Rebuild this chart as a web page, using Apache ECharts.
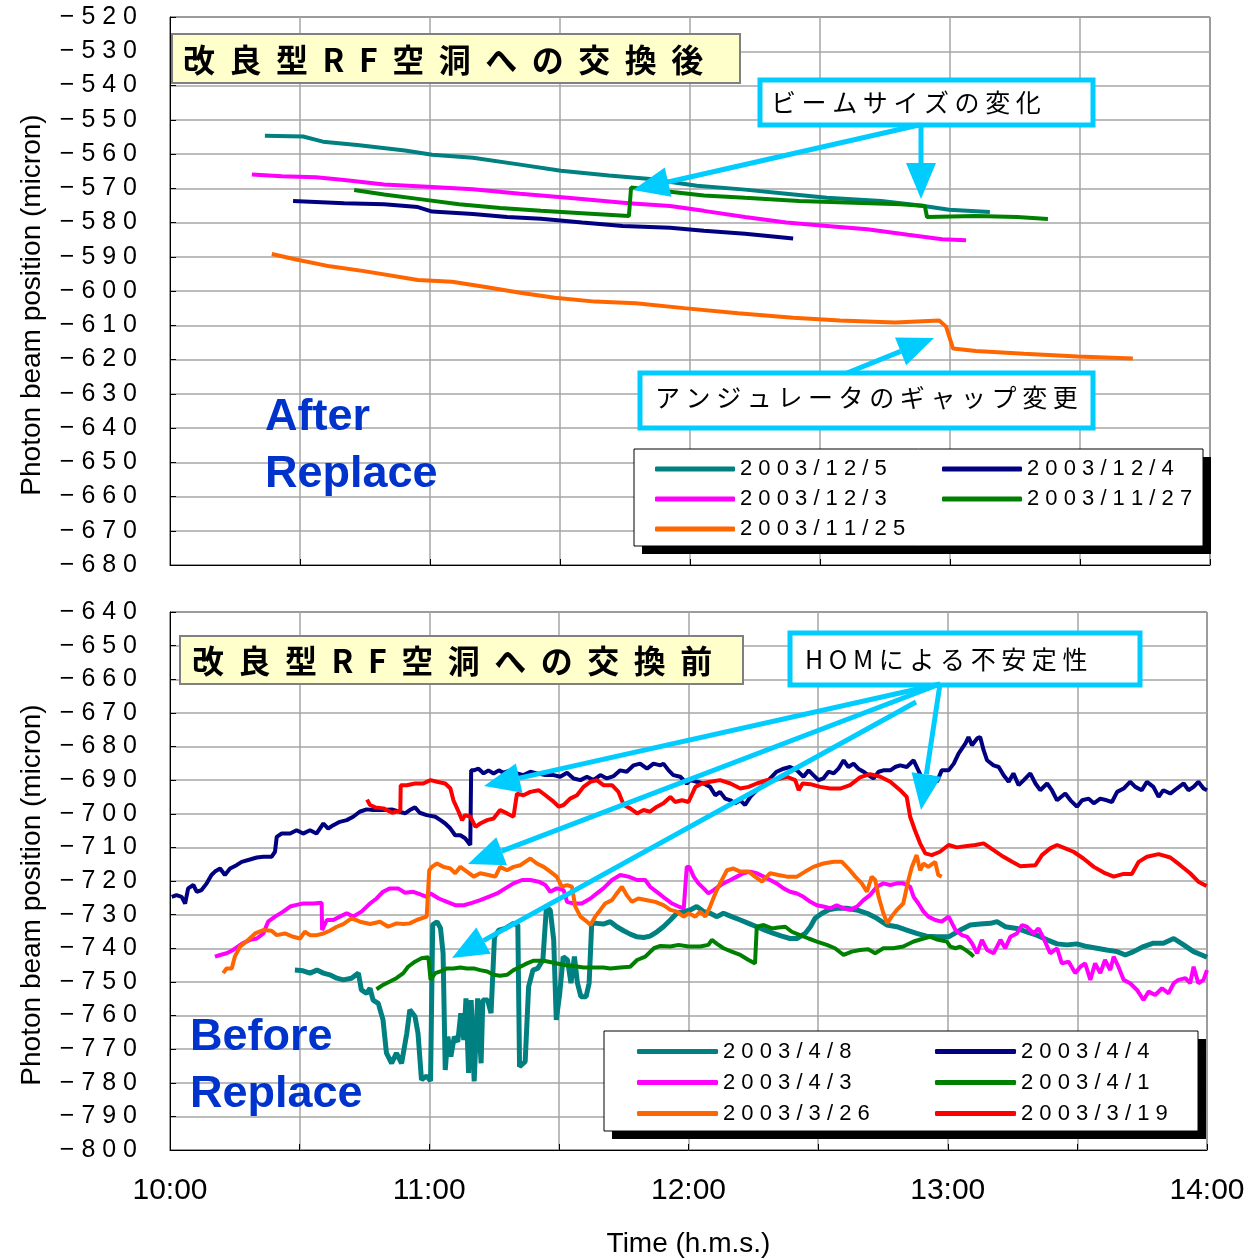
<!DOCTYPE html>
<html>
<head>
<meta charset="utf-8">
<script src="https://cdn.jsdelivr.net/npm/echarts@6/dist/echarts.min.js"></script>
<style>
    html, body { margin: 0; padding: 0; background: #fff; }
    #chart { width: 1252px; height: 1260px; }
</style>
</head>
<body>
<div id="chart"></div>
<script>
// 時刻は 10:00 からの経過分, 値は micron
// 改良型RF空洞への交換後
var after_1205 = [[21.9,-554.7],[30.7,-554.9],[35.3,-556.4],[43.2,-557.4],[54.2,-559.0],[60.5,-560.2],[69.9,-561.1],[80.8,-563.1],[90.2,-564.9],[101.3,-566.3],[110.8,-567.3],[121.6,-569.3],[132.7,-570.4],[142.2,-571.6],[151.6,-572.8],[164.1,-573.7],[173.6,-575.1],[179.8,-576.3],[189.2,-576.9]];
var after_1204 = [[28.4,-573.7],[40.2,-574.4],[49.4,-574.7],[57.2,-575.5],[60.5,-576.8],[69.9,-577.5],[77.8,-578.4],[85.6,-578.9],[95.1,-580.0],[104.5,-581.0],[115.4,-581.5],[123.2,-582.4],[132.7,-583.3],[143.8,-584.7]];
var after_1203 = [[18.9,-566.0],[25.8,-566.5],[33.7,-566.8],[40.2,-567.6],[49.4,-568.9],[60.5,-569.6],[69.9,-570.3],[80.8,-571.6],[91.8,-572.8],[105.9,-574.4],[115.4,-575.2],[123.2,-576.6],[132.7,-578.4],[142.2,-580.0],[151.6,-581.0],[160.9,-582.0],[170.3,-583.6],[178.2,-584.9],[183.7,-585.2]];
var after_1127 = [[42.5,-570.5],[49.4,-571.8],[57.2,-573.1],[66.7,-574.7],[76.2,-575.8],[85.6,-576.6],[95.1,-577.3],[105.9,-578.1],[106.4,-569.8],[115.4,-571.0],[123.2,-572.1],[132.7,-572.8],[145.2,-573.7],[157.9,-574.2],[168.7,-574.7],[174.2,-575.2],[174.7,-578.4],[186.0,-578.1],[195.5,-578.4],[202.6,-579.0]];
var after_1125 = [[23.5,-589.2],[29.1,-590.8],[36.9,-592.8],[44.8,-594.2],[57.2,-596.8],[65.1,-597.3],[73.2,-598.9],[80.8,-600.5],[88.8,-602.0],[98.1,-603.1],[107.5,-603.6],[118.6,-605.0],[131.1,-606.5],[143.8,-607.8],[154.6,-608.6],[167.3,-609.2],[177.5,-608.6],[179.1,-610.4],[180.7,-616.8],[186.0,-617.5],[197.1,-618.3],[209.5,-619.1],[222.2,-619.7]];

// 改良型RF空洞への交換前
var before_0408 = [[28.9,-746.5],[30.8,-746.7],[32.4,-747.4],[34.0,-746.5],[35.5,-747.4],[37.0,-747.9],[38.6,-748.9],[40.1,-749.4],[42.0,-748.9],[43.6,-747.4],[44.3,-752.4],[45.5,-753.4],[46.3,-751.9],[47.0,-755.4],[48.2,-756.4],[49.3,-761.3],[50.1,-771.2],[51.3,-774.2],[52.4,-771.2],[53.6,-774.2],[54.8,-765.3],[55.5,-758.3],[56.7,-760.3],[57.4,-765.3],[58.2,-779.1],[59.4,-778.0],[60.3,-779.5],[60.8,-733.0],[61.8,-732.1],[62.6,-734.0],[63.2,-741.5],[63.7,-776.2],[64.3,-766.3],[65.0,-772.2],[65.8,-766.3],[66.6,-767.8],[67.3,-759.3],[68.0,-767.3],[68.5,-754.9],[69.1,-777.1],[69.7,-755.4],[70.4,-779.6],[71.2,-754.9],[72.0,-774.2],[72.4,-755.4],[73.5,-755.4],[74.3,-759.3],[75.1,-736.6],[76.1,-734.6],[77.6,-734.1],[79.5,-732.6],[80.5,-733.1],[80.9,-775.2],[82.2,-773.7],[83.0,-751.4],[84.0,-746.5],[85.1,-746.0],[86.3,-743.5],[87.1,-728.1],[88.0,-728.6],[88.8,-737.5],[89.4,-761.3],[90.2,-753.4],[91.0,-742.5],[92.0,-743.5],[92.8,-750.4],[93.6,-742.5],[94.3,-750.4],[95.1,-754.4],[96.3,-754.4],[97.0,-750.4],[97.6,-732.6],[98.8,-732.6],[100.3,-732.8],[101.9,-732.1],[103.4,-733.6],[105.0,-734.8],[106.5,-735.8],[108.1,-736.6],[109.6,-736.8],[111.1,-736.4],[112.7,-735.1],[114.2,-733.6],[115.8,-731.6],[117.3,-729.6],[118.9,-729.1],[120.4,-728.6],[121.9,-727.6],[123.5,-729.1],[125.0,-729.6],[126.6,-730.6],[128.1,-729.6],[130.0,-730.6],[132.0,-731.6],[133.9,-732.6],[135.8,-733.6],[137.7,-734.6],[139.7,-735.6],[141.6,-736.4],[143.5,-737.1],[145.1,-737.1],[147.0,-735.6],[148.2,-733.6],[149.3,-731.1],[150.9,-729.6],[152.4,-728.6],[154.3,-728.1],[156.6,-728.1],[158.9,-728.6],[161.3,-729.6],[163.6,-731.1],[165.9,-733.1],[168.2,-733.6],[170.5,-734.6],[172.8,-735.6],[175.1,-736.4],[177.5,-736.6],[180.2,-736.6],[182.9,-734.6],[185.2,-733.1],[187.5,-732.8],[189.9,-732.6],[191.4,-732.1],[193.3,-733.6],[196.0,-734.1],[198.3,-735.1],[200.6,-736.1],[203.0,-737.5],[205.3,-738.7],[207.6,-739.0],[209.9,-738.7],[212.2,-739.5],[214.5,-740.0],[216.8,-740.5],[219.2,-741.0],[221.1,-742.0],[223.0,-741.0],[225.3,-739.5],[227.6,-738.5],[229.9,-738.5],[232.3,-737.1],[234.6,-739.0],[236.9,-741.0],[238.8,-742.0],[240.0,-742.7]];
var before_0404 = [[0.4,-724.7],[1.5,-724.2],[2.7,-724.7],[3.5,-726.7],[4.2,-722.2],[5.4,-721.2],[6.2,-723.2],[7.3,-722.7],[8.5,-720.7],[9.6,-718.2],[10.4,-717.2],[11.6,-716.3],[12.7,-718.2],[13.9,-716.3],[15.4,-715.3],[16.6,-714.3],[18.5,-713.6],[20.1,-713.0],[21.6,-712.8],[23.5,-712.8],[24.3,-711.3],[24.7,-706.9],[25.8,-705.9],[27.8,-705.9],[29.3,-704.9],[30.8,-705.9],[32.4,-704.9],[33.9,-705.9],[35.5,-702.9],[36.6,-704.4],[37.8,-703.4],[39.3,-702.4],[40.9,-701.9],[42.4,-700.9],[43.9,-699.4],[45.5,-698.7],[47.0,-698.9],[49.3,-698.9],[51.3,-698.7],[53.2,-699.4],[54.4,-699.9],[55.5,-698.9],[56.7,-698.1],[57.8,-699.7],[59.4,-700.4],[61.4,-700.9],[62.6,-701.9],[63.7,-702.9],[64.9,-704.4],[66.0,-706.4],[67.2,-706.4],[68.3,-707.3],[69.5,-709.3],[69.7,-687.1],[70.3,-687.1],[71.4,-686.6],[72.6,-688.0],[73.7,-687.1],[74.9,-688.0],[76.1,-687.1],[77.2,-687.8],[78.8,-687.1],[80.3,-688.0],[81.8,-688.5],[83.4,-687.5],[84.9,-688.0],[86.9,-688.5],[88.8,-688.5],[90.3,-689.0],[91.9,-687.8],[93.4,-689.5],[95.0,-690.0],[96.5,-689.0],[98.0,-690.0],[99.6,-688.5],[101.1,-689.5],[102.7,-688.8],[104.2,-687.1],[105.7,-687.5],[107.3,-685.6],[108.8,-685.1],[110.4,-686.6],[111.9,-685.1],[113.5,-685.6],[114.2,-685.1],[115.4,-687.1],[116.5,-688.5],[118.1,-689.0],[119.6,-691.0],[120.4,-690.0],[121.9,-690.5],[123.5,-691.0],[125.0,-692.0],[126.2,-694.5],[127.3,-693.5],[128.5,-695.5],[129.7,-696.0],[130.8,-696.9],[132.0,-696.0],[133.1,-697.4],[134.3,-695.0],[135.8,-693.0],[137.4,-691.5],[138.9,-689.5],[140.4,-687.5],[142.0,-686.6],[143.5,-686.1],[145.1,-687.1],[146.6,-689.0],[147.8,-687.1],[148.9,-688.5],[150.1,-690.0],[151.2,-689.5],[152.4,-687.5],[153.6,-688.0],[154.7,-686.6],[155.9,-684.1],[157.0,-686.1],[158.2,-685.1],[159.3,-686.6],[160.5,-687.5],[161.6,-688.5],[162.8,-689.5],[164.0,-687.5],[165.1,-687.1],[166.7,-687.1],[167.8,-686.1],[169.0,-685.6],[170.5,-686.1],[172.1,-684.1],[173.2,-687.1],[174.4,-690.5],[175.9,-689.0],[177.5,-690.5],[178.6,-687.1],[180.2,-687.1],[181.4,-685.1],[182.5,-682.1],[184.1,-679.1],[184.8,-677.2],[185.6,-679.6],[186.8,-677.6],[187.5,-677.2],[188.3,-681.1],[189.1,-684.1],[190.6,-685.6],[191.8,-686.1],[192.9,-688.5],[194.1,-690.5],[195.2,-688.0],[196.4,-691.5],[197.6,-690.0],[199.1,-688.0],[200.3,-691.0],[201.4,-693.0],[203.0,-691.0],[204.1,-693.0],[205.3,-696.0],[207.2,-694.0],[208.4,-696.0],[209.9,-697.9],[211.1,-696.0],[212.6,-695.5],[213.8,-696.9],[215.3,-695.5],[216.8,-696.0],[218.0,-696.5],[219.2,-693.5],[220.7,-692.5],[222.2,-690.5],[223.4,-692.0],[224.9,-693.0],[226.1,-690.5],[227.6,-692.0],[228.8,-695.0],[229.9,-693.0],[231.5,-694.0],[233.0,-692.5],[234.6,-691.0],[235.7,-693.0],[236.9,-692.0],[238.0,-690.5],[239.2,-692.5],[240.0,-693.0]];
var before_0403 = [[10.4,-742.5],[11.6,-742.0],[13.1,-741.5],[14.6,-740.5],[16.6,-738.7],[18.5,-737.5],[20.1,-737.1],[21.6,-735.6],[22.7,-732.1],[24.3,-730.6],[26.2,-729.1],[27.8,-727.6],[29.3,-727.1],[30.8,-726.7],[33.2,-726.7],[35.1,-726.5],[35.2,-734.6],[36.3,-731.6],[37.8,-731.6],[39.3,-730.6],[40.9,-729.6],[42.4,-730.6],[44.3,-729.1],[46.3,-726.7],[47.8,-725.2],[49.3,-723.2],[50.9,-722.2],[52.8,-722.2],[54.4,-723.5],[56.3,-723.2],[57.8,-723.9],[59.4,-724.7],[60.3,-723.7],[62.2,-725.2],[64.1,-726.2],[66.0,-727.2],[68.0,-727.2],[69.9,-726.5],[71.8,-725.7],[73.7,-724.7],[75.7,-723.7],[77.6,-722.2],[79.5,-720.7],[81.5,-719.7],[83.4,-719.7],[85.3,-720.2],[86.9,-721.2],[88.0,-723.2],[89.5,-722.2],[91.1,-722.7],[91.9,-726.2],[93.4,-726.7],[95.3,-726.7],[97.3,-725.2],[98.8,-723.7],[100.3,-722.2],[102.3,-719.7],[104.2,-718.2],[106.1,-718.7],[108.1,-719.7],[110.0,-719.7],[111.1,-721.7],[113.1,-723.7],[114.6,-725.2],[116.2,-726.7],[117.7,-727.6],[118.9,-728.1],[119.6,-715.8],[120.2,-715.8],[121.2,-718.7],[122.3,-720.7],[123.5,-722.2],[124.6,-723.7],[125.8,-722.7],[126.9,-721.7],[128.1,-720.7],[129.7,-719.7],[131.2,-718.7],[132.7,-717.7],[134.3,-717.2],[135.8,-717.7],[137.4,-718.7],[138.9,-719.7],[140.4,-720.7],[142.0,-722.2],[143.5,-723.2],[145.1,-723.7],[146.6,-724.7],[148.2,-726.2],[149.7,-727.2],[151.2,-727.6],[152.8,-728.1],[154.3,-727.2],[155.9,-728.1],[157.4,-728.6],[159.0,-727.6],[160.5,-725.7],[162.0,-724.2],[163.6,-721.7],[165.1,-720.7],[166.7,-721.2],[168.2,-720.7],[169.7,-720.7],[171.3,-721.7],[172.1,-724.7],[173.2,-726.7],[174.4,-729.1],[175.5,-730.6],[177.1,-731.6],[178.6,-732.1],[180.2,-730.6],[181.8,-734.6],[183.3,-736.1],[184.5,-736.6],[185.6,-738.5],[186.8,-741.5],[187.9,-737.5],[189.1,-740.5],[190.6,-741.5],[192.2,-737.5],[193.3,-740.0],[194.5,-736.6],[196.0,-735.6],[197.2,-733.1],[198.3,-733.6],[199.9,-735.6],[201.0,-734.1],[202.2,-737.1],[203.7,-741.5],[205.3,-740.0],[206.4,-744.5],[208.0,-744.0],[209.5,-747.4],[210.7,-745.5],[211.8,-744.5],[213.0,-749.4],[214.1,-744.5],[215.3,-747.4],[216.4,-743.5],[217.6,-746.5],[218.4,-742.5],[219.5,-745.5],[220.7,-749.4],[222.2,-750.4],[223.8,-752.4],[225.3,-755.4],[226.5,-752.9],[228.0,-753.9],[229.6,-751.9],[231.1,-753.4],[232.3,-750.4],[233.4,-749.4],[235.0,-748.9],[236.1,-750.4],[236.9,-745.5],[238.0,-750.4],[239.2,-749.4],[240.0,-746.5]];
var before_0401 = [[47.8,-752.2],[49.3,-750.9],[50.9,-749.9],[52.4,-748.9],[54.0,-747.4],[55.1,-745.5],[56.7,-744.0],[58.2,-743.0],[59.8,-742.7],[60.3,-749.4],[61.4,-747.4],[62.6,-746.9],[64.1,-746.0],[65.6,-746.0],[67.2,-745.7],[68.7,-746.0],[70.3,-746.0],[71.8,-746.5],[73.4,-746.9],[74.9,-747.9],[76.4,-748.2],[78.0,-747.9],[79.5,-746.5],[81.1,-745.5],[82.6,-744.5],[84.2,-743.7],[86.5,-743.7],[88.8,-744.3],[91.1,-745.0],[93.4,-745.3],[95.7,-745.7],[98.0,-745.7],[100.3,-745.7],[101.9,-746.0],[104.2,-745.7],[106.5,-745.5],[108.1,-743.5],[110.0,-742.5],[112.0,-740.0],[113.5,-739.3],[115.8,-739.5],[117.7,-739.0],[120.0,-739.5],[122.7,-739.5],[124.6,-739.0],[125.4,-737.5],[126.6,-738.7],[128.1,-740.0],[130.0,-741.0],[132.0,-742.0],[133.9,-743.5],[135.4,-744.5],[135.8,-733.6],[137.4,-733.1],[139.3,-734.1],[140.8,-733.8],[142.4,-733.6],[143.9,-735.1],[145.8,-736.1],[147.8,-737.1],[149.7,-738.0],[152.0,-739.0],[153.9,-740.0],[155.9,-742.0],[157.8,-741.0],[159.7,-740.5],[161.6,-740.3],[163.2,-741.5],[165.1,-740.0],[167.4,-740.0],[169.7,-739.5],[172.1,-738.0],[174.4,-737.1],[175.9,-736.6],[177.8,-737.5],[179.8,-738.0],[180.6,-739.5],[181.8,-740.0],[182.9,-739.5],[184.1,-740.5],[185.2,-741.5],[186.0,-742.5]];
var before_0326 = [[12.3,-747.4],[13.1,-746.0],[14.3,-746.0],[15.0,-742.5],[16.2,-739.5],[17.7,-738.0],[19.7,-735.6],[21.6,-734.6],[23.5,-734.8],[24.7,-736.1],[26.6,-735.6],[28.5,-736.6],[30.1,-737.1],[31.2,-735.1],[32.4,-736.1],[34.0,-736.1],[35.5,-735.6],[37.0,-734.8],[38.6,-733.6],[40.1,-732.8],[42.0,-731.1],[44.0,-732.1],[46.3,-732.8],[48.6,-732.1],[50.5,-733.6],[52.4,-732.6],[54.0,-732.8],[55.5,-732.6],[57.1,-731.6],[59.4,-730.6],[60.0,-716.8],[60.6,-715.8],[61.8,-714.8],[63.3,-715.8],[64.9,-716.3],[66.0,-717.7],[67.2,-715.8],[68.7,-717.2],[70.3,-718.7],[71.8,-717.7],[73.7,-718.2],[75.3,-718.7],[76.4,-715.8],[78.0,-716.8],[79.5,-715.8],[81.1,-715.3],[82.2,-714.3],[83.4,-713.3],[84.9,-714.8],[86.5,-715.8],[88.0,-717.2],[89.5,-718.7],[90.7,-721.7],[91.9,-721.2],[93.0,-721.7],[93.8,-727.6],[95.0,-730.6],[96.5,-732.1],[97.3,-733.1],[98.4,-730.6],[99.6,-728.6],[100.7,-726.7],[102.3,-725.7],[103.4,-723.7],[104.6,-721.7],[105.7,-724.2],[106.9,-726.2],[108.4,-725.2],[110.4,-725.7],[112.3,-726.2],[114.2,-727.2],[115.8,-728.6],[117.3,-729.1],[118.9,-730.6],[120.0,-729.6],[121.6,-730.6],[122.7,-729.1],[123.9,-730.6],[125.0,-727.6],[126.2,-723.7],[127.3,-720.7],[128.9,-716.8],[130.4,-716.3],[132.0,-717.2],[133.9,-717.2],[135.4,-718.7],[137.0,-720.2],[138.9,-717.7],[140.8,-718.2],[142.8,-718.7],[145.1,-718.7],[147.0,-717.2],[148.9,-715.8],[151.2,-714.8],[153.6,-714.3],[155.5,-714.3],[157.0,-716.3],[158.6,-718.7],[160.1,-720.7],[161.3,-723.2],[162.4,-718.7],[163.2,-719.7],[164.0,-724.7],[165.1,-729.6],[166.0,-732.6],[167.0,-730.6],[168.2,-728.6],[169.7,-726.7],[170.9,-719.7],[171.7,-715.8],[172.8,-712.3],[173.6,-716.8],[174.4,-714.8],[175.5,-715.8],[177.1,-714.3],[177.8,-718.2],[178.6,-718.7]];
var before_0319 = [[45.6,-695.8],[46.3,-697.4],[47.5,-698.1],[49.4,-698.4],[51.4,-699.7],[53.3,-699.1],[53.4,-691.5],[54.8,-691.5],[56.7,-691.0],[58.6,-691.0],[60.3,-690.0],[61.8,-690.5],[63.7,-691.0],[64.9,-692.5],[65.6,-696.0],[66.8,-699.4],[67.6,-701.9],[68.3,-700.4],[69.5,-700.9],[70.7,-703.9],[71.8,-702.9],[73.4,-701.9],[74.9,-701.4],[76.4,-698.9],[78.0,-699.9],[79.5,-700.9],[80.3,-694.0],[81.8,-694.5],[83.4,-693.5],[85.3,-693.0],[86.9,-694.5],[88.4,-696.0],[90.0,-697.9],[91.1,-697.4],[92.6,-695.5],[94.2,-694.5],[95.7,-692.0],[97.3,-690.5],[98.8,-690.0],[100.3,-691.5],[102.3,-691.5],[103.8,-693.5],[105.0,-697.4],[106.5,-698.4],[108.1,-699.9],[109.6,-698.9],[111.1,-699.4],[112.7,-697.9],[114.2,-696.9],[115.8,-695.0],[116.9,-696.5],[118.5,-696.0],[120.0,-696.5],[121.6,-692.0],[123.1,-691.0],[125.0,-690.5],[127.3,-690.0],[129.7,-691.0],[132.0,-692.5],[133.9,-692.0],[135.8,-691.0],[138.1,-690.0],[140.4,-689.8],[142.8,-689.0],[144.7,-690.0],[145.5,-693.0],[146.4,-691.0],[148.2,-691.2],[150.5,-692.0],[152.8,-692.5],[155.1,-692.5],[157.4,-691.5],[159.7,-689.2],[162.0,-688.2],[164.4,-689.0],[166.7,-690.5],[169.0,-693.0],[170.5,-695.0],[171.3,-700.9],[172.4,-704.9],[173.6,-708.8],[174.8,-711.8],[176.3,-712.3],[178.2,-711.3],[180.2,-709.3],[182.1,-710.0],[184.5,-709.6],[186.4,-709.3],[188.3,-708.8],[190.6,-710.8],[192.9,-712.8],[194.9,-714.3],[196.8,-715.6],[200.3,-715.3],[201.8,-712.3],[203.7,-710.3],[205.3,-709.3],[207.2,-710.3],[209.1,-711.3],[211.4,-713.3],[213.8,-715.8],[216.1,-717.5],[218.4,-718.7],[220.7,-717.9],[222.6,-717.9],[224.2,-714.3],[226.1,-712.8],[228.8,-712.0],[231.5,-713.0],[233.8,-715.3],[236.1,-717.7],[238.0,-720.2],[239.9,-721.5]];

var topNames = ['2003/12/5', '2003/12/4', '2003/12/3', '2003/11/27', '2003/11/25'];
var topSeries = [after_1205, after_1204, after_1203, after_1127, after_1125];
var topColors = ['#008080', '#000080', '#FF00FF', '#008000', '#FF6600'];

var bottomNames = ['2003/4/8', '2003/4/4', '2003/4/3', '2003/4/1', '2003/3/26', '2003/3/19'];
var bottomSeries = [before_0408, before_0404, before_0403, before_0401, before_0326, before_0319];
var bottomColors = ['#008080', '#000080', '#FF00FF', '#008000', '#FF6600', '#FF0000'];

var xTicks = ['10:00', '11:00', '12:00', '13:00', '14:00'];

var SANS = '"Liberation Sans", Arial, sans-serif';
var JP = '"Noto Sans CJK JP", sans-serif';
var CYAN = '#00CCFF';

// 文字間を空ける
function spaced(s, sep) {
    return s.split('').join(sep || ' ');
}

function makeX(gridIndex, showLabel) {
    return {
        type: 'value', gridIndex: gridIndex, min: 0, max: 240, interval: 30,
        axisLine: { show: true, onZero: false, lineStyle: { color: '#000', width: 1 } },
        axisTick: { show: true, inside: true, length: 6, lineStyle: { color: '#000' } },
        splitLine: { show: true, lineStyle: { color: '#a6a6a6', width: 1.5 } },
        axisLabel: {
            show: showLabel, margin: 26, color: '#000', fontSize: 30, fontFamily: SANS,
            showMinLabel: true, showMaxLabel: true,
            formatter: function (v) { return v % 60 === 0 ? xTicks[v / 60] : ''; }
        },
        name: showLabel ? 'Time (h.m.s.)' : '',
        nameLocation: 'middle', nameGap: 80,
        nameTextStyle: { color: '#000', fontSize: 28, fontFamily: SANS }
    };
}

function makeY(gridIndex, min, max) {
    return {
        type: 'value', gridIndex: gridIndex, min: min, max: max, interval: 10,
        axisLine: { show: true, lineStyle: { color: '#000', width: 1 } },
        axisTick: { show: true, inside: true, length: 6, lineStyle: { color: '#000' } },
        splitLine: { show: true, lineStyle: { color: '#a6a6a6', width: 1.5 } },
        axisLabel: {
            margin: 33, color: '#000', fontSize: 25, fontFamily: SANS,
            showMinLabel: true, showMaxLabel: true,
            formatter: function (v) { return spaced('\u2212' + Math.abs(v)); }
        },
        name: 'Photon beam position (micron)',
        nameLocation: 'middle', nameGap: 124, nameRotate: 90,
        // 右側の余白で文字列を少し下へずらす
        nameTextStyle: { color: '#000', fontSize: 28, fontFamily: SANS, padding: [0, 28, 0, 0] }
    };
}

var series = [];
topSeries.forEach(function (d, i) {
    series.push({
        type: 'line', name: topNames[i], xAxisIndex: 0, yAxisIndex: 0, data: d,
        showSymbol: false, symbol: 'none', color: topColors[i],
        lineStyle: { width: 4, color: topColors[i] }, z: 3
    });
});
bottomSeries.forEach(function (d, i) {
    series.push({
        type: 'line', name: bottomNames[i], xAxisIndex: 1, yAxisIndex: 1, data: d,
        showSymbol: false, symbol: 'none', color: bottomColors[i],
        lineStyle: { width: i === 0 ? 5 : 4, color: bottomColors[i] }, z: 3
    });
});

// 矢印 (線 + 三角形)
function arrow(x1, y1, x2, y2) {
    var dx = x2 - x1, dy = y2 - y1, len = Math.sqrt(dx * dx + dy * dy);
    var ux = dx / len, uy = dy / len, head = 36, half = 15;
    var bx = x2 - ux * head, by = y2 - uy * head;
    return [
        { type: 'line', z: 20, shape: { x1: x1, y1: y1, x2: bx, y2: by }, style: { stroke: CYAN, lineWidth: 5 } },
        { type: 'polygon', z: 20, shape: { points: [[x2, y2], [bx - uy * half, by + ux * half], [bx + uy * half, by - ux * half]] }, style: { fill: CYAN } }
    ];
}

function label(x, y, text, font, color) {
    return { type: 'text', z: 21, x: x, y: y, style: { text: text, font: font, fill: color || '#000', verticalAlign: 'middle', align: 'left' } };
}

function box(x, y, w, h, fill, stroke, lw) {
    return { type: 'rect', z: 15, shape: { x: x, y: y, width: w, height: h }, style: { fill: fill, stroke: stroke, lineWidth: lw } };
}

var graphics = [];
// タイトル枠
graphics.push(box(172, 34, 568, 49, '#FFFFCC', '#808080', 2));
graphics.push(label(183, 60, spaced('改良型RF空洞への交換後', '  '), 'bold 32px ' + JP));
graphics.push(box(180, 636, 563, 48, '#FFFFCC', '#808080', 2));
graphics.push(label(192, 661, spaced('改良型RF空洞への交換前', '  '), 'bold 32px ' + JP));
// 吹き出し
graphics.push(box(760, 80, 333, 45, '#fff', CYAN, 5));
graphics.push(label(771, 102, spaced('ビームサイズの変化'), '25px ' + JP));
graphics.push(box(640, 373, 453, 55, '#fff', CYAN, 5));
graphics.push(label(655, 397, spaced('アンジュレータのギャップ変更'), '25px ' + JP));
graphics.push(box(790, 633, 350, 52, '#fff', CYAN, 5));
graphics.push(label(805, 659, spaced('HOMによる不安定性'), '25px ' + JP));
// 矢印
graphics = graphics.concat(arrow(919, 125, 633, 190));
graphics = graphics.concat(arrow(921, 125, 921, 199));
graphics = graphics.concat(arrow(847, 373, 934, 338));
graphics = graphics.concat(arrow(940, 684, 484, 786));
graphics = graphics.concat(arrow(940, 684, 468, 864));
graphics = graphics.concat(arrow(916, 702, 452, 958));
graphics = graphics.concat(arrow(940, 684, 921, 810));
// After / Before Replace
graphics.push(label(265, 418, 'After', 'bold 45px ' + SANS, '#0033CC'));
graphics.push(label(265, 475, 'Replace', 'bold 45px ' + SANS, '#0033CC'));
graphics.push(label(190, 1038, 'Before', 'bold 45px ' + SANS, '#0033CC'));
graphics.push(label(190, 1095, 'Replace', 'bold 45px ' + SANS, '#0033CC'));
// 凡例の枠と影
graphics.push({ type: 'rect', z: 14, shape: { x: 642, y: 457, width: 569, height: 97 }, style: { fill: '#000' } });
graphics.push(box(634, 449, 569, 97, '#fff', '#000', 1));
graphics.push({ type: 'rect', z: 14, shape: { x: 612, y: 1039, width: 594, height: 100 }, style: { fill: '#000' } });
graphics.push(box(604, 1031, 594, 100, '#fff', '#000', 1));

var option = {
    animation: false,
    backgroundColor: '#fff',
    grid: [
        { left: 170, top: 17, width: 1040, height: 548, show: true, borderColor: '#000', borderWidth: 1, outerBoundsMode: 'none', containLabel: false },
        { left: 170, top: 612, width: 1037, height: 538, show: true, borderColor: '#000', borderWidth: 1, outerBoundsMode: 'none', containLabel: false }
    ],
    xAxis: [makeX(0, false), makeX(1, true)],
    yAxis: [makeY(0, -680, -520), makeY(1, -800, -640)],
    legend: [
        {
            data: topNames, left: 655, top: 454, width: 600, padding: 0, itemGap: 0,
            itemWidth: 80, itemHeight: 5, icon: 'roundRect', selectedMode: false, z: 30,
            textStyle: { width: 202, lineHeight: 30, fontSize: 22, fontFamily: SANS, color: '#000' },
            formatter: function (n) { return spaced(n); }
        },
        {
            data: bottomNames, left: 637, top: 1036, width: 615, padding: 0, itemGap: 0,
            itemWidth: 81, itemHeight: 5, icon: 'roundRect', selectedMode: false, z: 30,
            textStyle: { width: 212, lineHeight: 31, fontSize: 22, fontFamily: SANS, color: '#000' },
            formatter: function (n) { return spaced(n); }
        }
    ],
    graphic: graphics,
    series: series
};

var chart = echarts.init(document.getElementById('chart'));
chart.setOption(option);
</script>
</body>
</html>
